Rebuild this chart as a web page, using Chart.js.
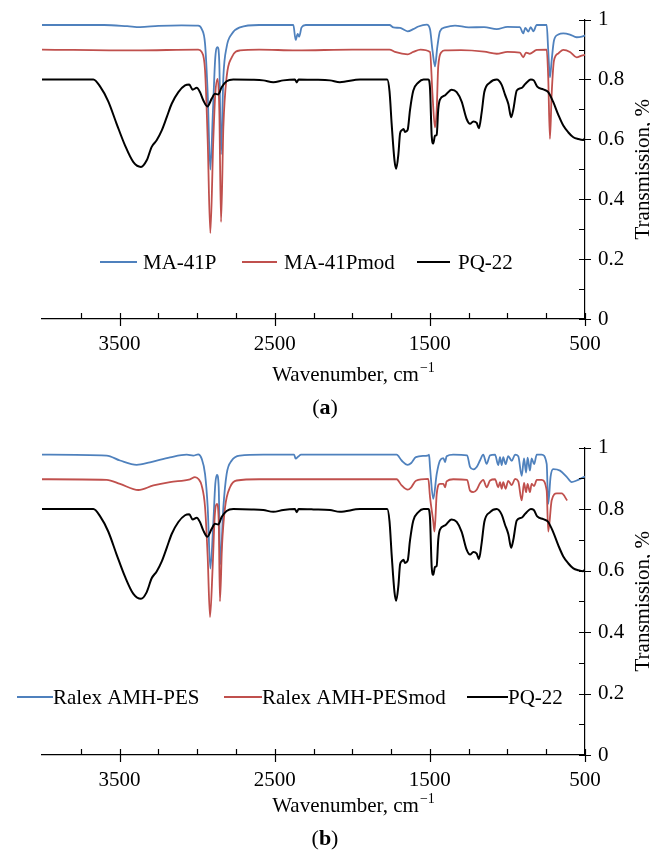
<!DOCTYPE html>
<html>
<head>
<meta charset="utf-8">
<script src="https://cdn.jsdelivr.net/npm/chart.js@4"></script>
<style>
body{margin:0;background:#fff;}
.panel{position:absolute;left:0;width:650px;height:428px;}
#panelA{top:0;}
#panelB{top:428px;}
</style>
</head>
<body>
<div class="panel" id="panelA"><canvas id="graficoA"></canvas></div>
<div class="panel" id="panelB"><canvas id="graficoB"></canvas></div>
<script>
// ticks del eje x (cm-1) y nombres de series
const xTicks = [3500, 2500, 1500, 500];
const nombresA = ['MA-41P', 'MA-41Pmod', 'PQ-22'];
const nombresB = ['Ralex AMH-PES', 'Ralex AMH-PESmod', 'PQ-22'];

// PQ-22 (igual en los dos paneles)
const ondaPQ = [4000,3669,3626,3573,3519,3465,3411,3362,3325,3293,3261,3228,3196,3164,3121,3078,3051,3029,3003,2982,2960,2934,2906,2885,2864,2842,2810,2767,2650,2574,2509,2445,2370,2358,2346,2250,2144,2080,1950,1775,1760,1746,1728,1717,1703,1692,1682,1670,1660,1643,1628,1607,1574,1540,1510,1499,1488,1478,1467,1456,1446,1435,1402,1360,1327,1295,1263,1241,1220,1198,1184,1166,1149,1112,1069,1037,1016,994,976,962,940,908,893,876,849,830,808,769,737,705,672,640,607,575,543,511,500];
const transPQ = [0.80,0.80,0.777,0.727,0.652,0.58,0.524,0.508,0.53,0.575,0.597,0.63,0.674,0.719,0.758,0.78,0.783,0.766,0.772,0.758,0.73,0.71,0.736,0.752,0.75,0.774,0.794,0.80,0.799,0.797,0.791,0.797,0.80,0.79,0.80,0.799,0.797,0.791,0.80,0.80,0.76,0.65,0.53,0.502,0.55,0.62,0.63,0.635,0.625,0.632,0.698,0.762,0.79,0.80,0.80,0.77,0.61,0.586,0.612,0.615,0.70,0.733,0.747,0.766,0.758,0.726,0.668,0.652,0.66,0.655,0.637,0.69,0.758,0.79,0.80,0.782,0.75,0.718,0.674,0.70,0.763,0.772,0.78,0.79,0.80,0.797,0.776,0.767,0.758,0.725,0.682,0.646,0.623,0.607,0.601,0.598,0.605];

// MA-41P
const ondaMA = [4000,3600,3450,3368,3250,3100,2993,2971,2949,2932,2915,2898,2883,2868,2857,2846,2831,2810,2777,2724,2600,2380,2365,2352,2342,2327,2300,2000,1760,1735,1692,1643,1607,1574,1520,1499,1483,1467,1452,1435,1402,1338,1250,1150,1069,1000,920,898,885,865,850,833,811,747,737,726,715,700,672,640,597,554,521,500];
const transMA = [0.982,0.982,0.978,0.975,0.979,0.981,0.98,0.969,0.919,0.752,0.499,0.697,0.874,0.908,0.852,0.55,0.808,0.908,0.952,0.974,0.982,0.982,0.932,0.952,0.943,0.974,0.982,0.982,0.982,0.974,0.972,0.961,0.968,0.977,0.983,0.968,0.897,0.844,0.908,0.961,0.974,0.98,0.974,0.975,0.968,0.976,0.975,0.954,0.972,0.96,0.975,0.961,0.982,0.982,0.897,0.807,0.863,0.93,0.95,0.954,0.95,0.941,0.943,0.947];

// MA-41Pmod
const ondaMAm = [4000,3400,2993,2971,2949,2932,2915,2896,2883,2868,2857,2846,2831,2810,2777,2724,2600,2360,2000,1760,1725,1643,1607,1560,1499,1483,1467,1456,1446,1424,1402,1300,1150,1069,1000,920,898,880,855,811,747,737,726,715,700,672,640,597,554,521,500];
const transMAm = [0.90,0.897,0.90,0.892,0.83,0.597,0.287,0.597,0.752,0.802,0.697,0.324,0.641,0.808,0.874,0.897,0.90,0.897,0.90,0.90,0.892,0.884,0.892,0.90,0.892,0.75,0.64,0.697,0.844,0.892,0.897,0.898,0.893,0.886,0.892,0.89,0.874,0.89,0.886,0.899,0.90,0.807,0.602,0.75,0.863,0.887,0.899,0.892,0.874,0.88,0.882];

// Ralex AMH-PES
const ondaRA = [4000,3583,3497,3390,3304,3175,3067,3025,2993,2971,2949,2932,2915,2896,2883,2872,2861,2851,2831,2810,2777,2724,2574,2375,2365,2348,2330,2000,1714,1682,1643,1620,1590,1510,1505,1499,1478,1456,1435,1413,1402,1392,1349,1260,1241,1220,1198,1177,1156,1134,1112,1080,1059,1048,1037,1027,1012,995,972,951,930,908,893,880,870,855,844,828,811,780,747,737,722,705,661,618,586,554,532,511,500];
const transRA = [0.977,0.974,0.958,0.944,0.952,0.968,0.977,0.974,0.978,0.964,0.914,0.806,0.606,0.752,0.882,0.911,0.871,0.62,0.806,0.914,0.958,0.974,0.977,0.977,0.964,0.971,0.977,0.977,0.977,0.958,0.944,0.95,0.969,0.975,0.977,0.937,0.833,0.914,0.958,0.966,0.953,0.972,0.977,0.975,0.937,0.929,0.937,0.958,0.977,0.947,0.975,0.977,0.943,0.969,0.943,0.969,0.946,0.972,0.957,0.977,0.972,0.908,0.965,0.919,0.967,0.925,0.965,0.946,0.977,0.977,0.947,0.817,0.905,0.93,0.925,0.905,0.888,0.893,0.898,0.903,0.906];

// Ralex AMH-PESmod
const ondaRAm = [4000,3583,3497,3379,3282,3175,3046,3014,2990,2971,2949,2932,2917,2900,2887,2872,2861,2853,2840,2820,2788,2745,2600,2000,1714,1682,1643,1620,1590,1510,1499,1478,1470,1456,1435,1413,1402,1392,1349,1260,1241,1220,1198,1177,1156,1134,1112,1080,1059,1048,1037,1027,1012,995,972,951,930,908,893,880,870,855,844,828,811,780,747,737,715,682,650,615];
const transRAm = [0.897,0.895,0.882,0.862,0.877,0.888,0.897,0.904,0.897,0.877,0.806,0.644,0.449,0.612,0.774,0.817,0.763,0.50,0.677,0.806,0.871,0.893,0.897,0.897,0.897,0.877,0.863,0.871,0.892,0.898,0.839,0.76,0.727,0.848,0.882,0.882,0.871,0.89,0.897,0.895,0.86,0.855,0.863,0.884,0.895,0.871,0.893,0.897,0.871,0.888,0.866,0.888,0.866,0.892,0.878,0.898,0.89,0.828,0.885,0.855,0.882,0.855,0.882,0.875,0.895,0.895,0.86,0.727,0.828,0.851,0.851,0.828];

const colores = ['#4f81bd', '#c0504d', '#000000'];
const fuente = '"Liberation Serif", "Times New Roman", serif';

const puntos = (onda, trans) => onda.map((w, i) => ({x: w, y: trans[i]}));

const serie = (nombre, onda, trans, i) => ({
    label: nombre,
    data: puntos(onda, trans),
    borderColor: colores[i],
    borderWidth: i === 2 ? 2 : 1.8,
    pointRadius: 0,
    showLine: true,
    fill: false,
    cubicInterpolationMode: 'monotone',
    order: 3 - i
});

// ticks que cruzan el eje, leyenda, titulos
const adornos = {
    id: 'adornos',
    afterDraw(chart, args, o) {
        const ctx = chart.ctx;
        const xs = chart.scales.x, ys = chart.scales.y;
        const r = chart.chartArea.right, b = chart.chartArea.bottom;
        ctx.save();
        ctx.strokeStyle = '#000';
        ctx.lineWidth = 1.2;
        ctx.beginPath();
        for (let i = 0; i <= 10; i++) {
            const py = Math.round(ys.getPixelForValue(i / 10)) + 0.5;
            ctx.moveTo(r - 6, py);
            ctx.lineTo(i % 2 === 0 ? r + 6 : r, py);
        }
        for (let w = 500; w < 4000; w += 250) {
            const px = Math.round(xs.getPixelForValue(w)) + 0.5;
            ctx.moveTo(px, b - 6);
            ctx.lineTo(px, (w - 500) % 1000 === 0 ? b + 7 : b);
        }
        ctx.stroke();

        // leyenda
        ctx.font = '21px ' + fuente;
        ctx.textBaseline = 'middle';
        ctx.textAlign = 'left';
        o.leyenda.forEach((it, i) => {
            ctx.strokeStyle = colores[i];
            ctx.lineWidth = 2;
            ctx.beginPath();
            ctx.moveTo(it[0], o.leyendaY);
            ctx.lineTo(it[1], o.leyendaY);
            ctx.stroke();
            ctx.fillStyle = '#000';
            ctx.fillText(o.nombres[i], it[2], o.leyendaY + 1);
        });

        // titulo eje y
        ctx.save();
        ctx.translate(643, (chart.chartArea.top + b) / 2);
        ctx.rotate(-Math.PI / 2);
        ctx.textAlign = 'center';
        ctx.fillText('Transmission, %', 0, 0);
        ctx.restore();

        // titulo eje x con superindice
        const t1 = 'Wavenumber, cm';
        ctx.font = '21px ' + fuente;
        const w1 = ctx.measureText(t1).width;
        ctx.font = '14px ' + fuente;
        const w2 = ctx.measureText('\u22121').width;
        let x0 = 353 - (w1 + w2) / 2;
        ctx.font = '21px ' + fuente;
        ctx.fillText(t1, x0, o.tituloY);
        ctx.font = '14px ' + fuente;
        ctx.fillText('\u22121', x0 + w1 + 1, o.tituloY - 7);

        // (a) / (b)
        ctx.font = '22px ' + fuente;
        const wp = ctx.measureText('(').width;
        ctx.font = 'bold 22px ' + fuente;
        const wl = ctx.measureText(o.letra).width;
        x0 = 325 - (2 * wp + wl) / 2;
        ctx.font = '22px ' + fuente;
        ctx.fillText('(', x0, o.letraY);
        ctx.font = 'bold 22px ' + fuente;
        ctx.fillText(o.letra, x0 + wp, o.letraY);
        ctx.font = '22px ' + fuente;
        ctx.fillText(')', x0 + wp + wl, o.letraY);
        ctx.restore();
    }
};

const crearGrafico = (id, datasets, alturaX, extra) => {
    const ctx = document.getElementById(id);
    return new Chart(ctx, {
        type: 'scatter',
        data: {datasets},
        options: {
            responsive: true,
            maintainAspectRatio: false,
            animation: false,
            layout: {padding: {left: 42, top: 19, right: 0, bottom: 0}},
            plugins: {
                legend: {display: false},
                tooltip: {enabled: false},
                adornos: extra
            },
            scales: {
                x: {
                    type: 'linear',
                    reverse: true,
                    min: 500,
                    max: 4000,
                    afterBuildTicks: (s) => { s.ticks = xTicks.map(v => ({value: v})); },
                    afterFit: (s) => { s.height = alturaX; },
                    grid: {display: false, drawTicks: true, tickLength: 6},
                    border: {display: true, color: '#000', width: 1.2},
                    ticks: {
                        autoSkip: false,
                        maxRotation: 0,
                        padding: 7,
                        color: '#000',
                        font: {family: fuente, size: 21},
                        callback: (v) => String(v)
                    }
                },
                y: {
                    position: 'right',
                    min: 0,
                    max: 1,
                    afterFit: (s) => { s.width = 65; },
                    grid: {display: false, drawTicks: true, tickLength: 6},
                    border: {display: true, color: '#000', width: 1.2},
                    ticks: {
                        stepSize: 0.1,
                        padding: 7,
                        color: '#000',
                        font: {family: fuente, size: 21},
                        callback: (v) => {
                            const k = Math.round(v * 10);
                            if (k % 2 !== 0) return '';
                            if (k === 0) return '0';
                            if (k === 10) return '1';
                            return (k / 10).toFixed(1);
                        }
                    }
                }
            }
        },
        plugins: [adornos]
    });
};

crearGrafico('graficoA', [
    serie(nombresA[0], ondaMA, transMA, 0),
    serie(nombresA[1], ondaMAm, transMAm, 1),
    serie(nombresA[2], ondaPQ, transPQ, 2)
], 109, {
    nombres: nombresA,
    leyenda: [[100, 137, 143], [242, 277, 284], [417, 450, 458]],
    leyendaY: 262,
    tituloY: 375,
    letra: 'a',
    letraY: 408
});

crearGrafico('graficoB', [
    serie(nombresB[0], ondaRA, transRA, 0),
    serie(nombresB[1], ondaRAm, transRAm, 1),
    serie(nombresB[2], ondaPQ, transPQ, 2)
], 101, {
    nombres: nombresB,
    leyenda: [[17, 53, 53], [224, 262, 262], [467, 508, 508]],
    leyendaY: 269,
    tituloY: 378,
    letra: 'b',
    letraY: 411
});
</script>
</body>
</html>
